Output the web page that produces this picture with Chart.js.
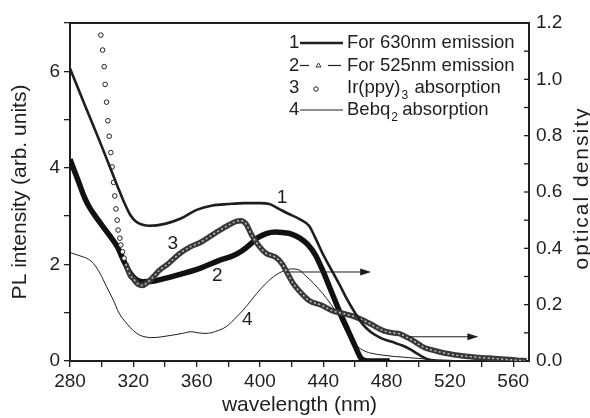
<!DOCTYPE html>
<html>
<head>
<meta charset="utf-8">
<script src="https://cdn.jsdelivr.net/npm/chart.js@4.4.1/dist/chart.umd.min.js"></script>
<style>
  html, body { margin: 0; padding: 0; background: #fff; }
  canvas { display: block; }
</style>
</head>
<body>
<canvas id="plChart" width="590" height="418"></canvas>
<script>
// curve 1 - PL, for 630nm emission (left axis)
const em630Wl  = [280, 290, 300, 310, 314, 318, 322, 326, 330, 340, 350, 360, 370, 380, 390, 400, 406, 412, 418, 425, 431, 435, 440, 445, 450, 455, 460, 465, 470, 475, 480, 485, 490, 495, 500, 505, 510];
const em630Val = [6.06, 5.25, 4.45, 3.62, 3.30, 3.03, 2.88, 2.82, 2.80, 2.84, 2.95, 3.13, 3.22, 3.25, 3.27, 3.27, 3.25, 3.15, 3.05, 2.94, 2.80, 2.55, 2.20, 1.90, 1.60, 1.28, 1.00, 0.76, 0.60, 0.50, 0.43, 0.38, 0.32, 0.24, 0.14, 0.05, 0.0];

// curve 2 - PL, for 525nm emission (left axis)
const em525Wl  = [280, 283, 286, 289, 292, 296, 300, 305, 310, 314, 318, 322, 326, 332, 340, 350, 362, 374, 383, 389, 394, 398, 404, 410, 414, 420, 425, 430, 435, 440, 445, 450, 455, 460, 464, 468, 482];
const em525Val = [4.18, 3.92, 3.66, 3.40, 3.20, 3.00, 2.82, 2.60, 2.36, 2.07, 1.82, 1.68, 1.64, 1.65, 1.71, 1.80, 1.92, 2.08, 2.18, 2.29, 2.42, 2.54, 2.64, 2.67, 2.66, 2.63, 2.55, 2.42, 2.20, 1.85, 1.45, 1.05, 0.68, 0.32, 0.05, 0.0, 0.0];

// curve 3 - Ir(ppy)3 absorption (right axis), single circles at the steep edge
const irSparseWl = [299.5, 300.6, 301.6, 302.2, 303.1, 303.9, 304.8, 305.8, 306.6, 307.5, 308.3, 309.0, 309.8, 310.4, 311.5, 312.1, 313.2, 314.2];
const irSparseOd = [1.157, 1.104, 1.045, 0.982, 0.919, 0.853, 0.798, 0.740, 0.689, 0.634, 0.586, 0.540, 0.500, 0.465, 0.436, 0.412, 0.388, 0.365];
// ...and the dense part, where the circles overlap into a band
const irDenseWl = [315.2, 318, 320, 322, 324, 326, 328.3, 332, 336.7, 342, 349, 356, 362, 372, 380, 385, 388, 391, 395, 399.7, 404, 410, 414, 418, 421, 425, 431, 439, 446, 453, 460, 466, 471, 476, 480, 485, 488, 491, 494, 498, 502.6, 508, 513, 523.6, 532, 540, 548, 555, 562, 568.5];
const irDenseOd = [0.345, 0.305, 0.292, 0.278, 0.270, 0.268, 0.276, 0.295, 0.323, 0.345, 0.380, 0.405, 0.420, 0.455, 0.482, 0.496, 0.498, 0.488, 0.445, 0.406, 0.382, 0.368, 0.345, 0.305, 0.275, 0.248, 0.215, 0.198, 0.178, 0.168, 0.157, 0.143, 0.128, 0.113, 0.104, 0.099, 0.097, 0.090, 0.081, 0.068, 0.051, 0.040, 0.033, 0.021, 0.016, 0.012, 0.009, 0.006, 0.003, 0.001];

// curve 4 - Bebq2 absorption (right axis)
const bebqWl = [280, 287, 291.5, 295, 299, 303, 307.3, 311, 315.7, 320, 324, 328, 332.5, 338, 345, 351, 356.7, 361, 366, 372, 378.7, 385, 391.3, 398, 403.9, 410, 416.5, 420, 424, 429, 434, 439.6, 445, 450, 453, 456.4, 460, 464.8, 470, 477.4, 485, 492, 500, 513, 534];
const bebqOd = [0.385, 0.372, 0.362, 0.345, 0.311, 0.265, 0.217, 0.170, 0.134, 0.108, 0.092, 0.085, 0.083, 0.086, 0.092, 0.098, 0.104, 0.100, 0.098, 0.105, 0.122, 0.155, 0.193, 0.240, 0.276, 0.305, 0.323, 0.327, 0.325, 0.302, 0.275, 0.240, 0.200, 0.157, 0.120, 0.086, 0.060, 0.039, 0.028, 0.021, 0.016, 0.013, 0.009, 0.004, 0.0];

// axis ranges
const wlRange = [280, 570];
const plRange = [0, 7];
const odRange = [0, 1.2];

const FONT = '"Liberation Sans", Arial, Helvetica, sans-serif';
const INK = '#1e1e1e';

function toPoints(xs, ys) {
    return xs.map((x, i) => ({ x: x, y: ys[i] }));
}

// curve numbers and arrows, in data units
const curveTags = [
    { text: '1', x: 414, y: 3.38 },
    { text: '2', x: 373, y: 1.77 },
    { text: '3', x: 345, y: 2.43 },
    { text: '4', x: 392, y: 0.85 }
];
const odArrows = [
    { from: 418.6, to: 470.3, od: 0.316 },
    { from: 494, to: 538, od: 0.086 }
];

function arrow(ctx, x1, x2, py) {
    ctx.beginPath();
    ctx.moveTo(x1, py);
    ctx.lineTo(x2 - 8, py);
    ctx.stroke();
    ctx.beginPath();
    ctx.moveTo(x2, py);
    ctx.lineTo(x2 - 11, py - 3.5);
    ctx.lineTo(x2 - 11, py + 3.5);
    ctx.closePath();
    ctx.fill();
}

const extrasPlugin = {
    id: 'extras',
    afterDraw(chart) {
        const { ctx, chartArea: a, scales } = chart;
        const x = scales.x, y = scales.y, y2 = scales.y2;
        ctx.save();
        ctx.strokeStyle = INK;
        ctx.fillStyle = INK;

        // top frame line
        ctx.lineWidth = 2;
        ctx.beginPath();
        ctx.moveTo(a.left - 1, a.top);
        ctx.lineTo(a.right + 1, a.top);
        ctx.stroke();

        // right axis ticks point inwards
        ctx.lineWidth = 1.3;
        y2.ticks.forEach(t => {
            const py = y2.getPixelForValue(t.value);
            ctx.beginPath();
            ctx.moveTo(a.right - 5, py);
            ctx.lineTo(a.right, py);
            ctx.stroke();
        });

        // right axis title, read bottom to top like the left one
        ctx.save();
        ctx.translate(chart.width - 8, (a.top + a.bottom) / 2 - 4);
        ctx.rotate(-Math.PI / 2);
        ctx.font = '21px ' + FONT;
        ctx.textAlign = 'center';
        ctx.textBaseline = 'middle';
        ctx.letterSpacing = '2px';
        ctx.fillText('optical density', 0, 0);
        ctx.restore();

        // numbers next to the curves
        ctx.font = '19px ' + FONT;
        ctx.textAlign = 'center';
        ctx.textBaseline = 'middle';
        curveTags.forEach(t => {
            ctx.fillText(t.text, x.getPixelForValue(t.x), y.getPixelForValue(t.y));
        });

        // arrows pointing to the optical density axis
        ctx.lineWidth = 1;
        odArrows.forEach(ar => {
            arrow(ctx, x.getPixelForValue(ar.from), x.getPixelForValue(ar.to), y2.getPixelForValue(ar.od));
        });

        // legend (top right, inside the frame)
        const lx = a.left + 219;
        const sx0 = lx + 11, sx1 = lx + 54, tx = lx + 58;
        const rows = [a.top + 20, a.top + 42.5, a.top + 65, a.top + 87];
        const big = '18.5px ' + FONT, small = '12px ' + FONT;
        ctx.font = big;
        ctx.textAlign = 'left';
        ctx.textBaseline = 'middle';

        // 1
        ctx.fillText('1', lx, rows[0]);
        ctx.lineWidth = 2.6;
        ctx.beginPath(); ctx.moveTo(sx0, rows[0]); ctx.lineTo(sx1, rows[0]); ctx.stroke();
        ctx.fillText('For 630nm emission', tx, rows[0]);

        // 2
        ctx.fillText('2', lx, rows[1]);
        ctx.lineWidth = 1.2;
        ctx.beginPath(); ctx.moveTo(sx0, rows[1]); ctx.lineTo(sx0 + 9, rows[1]); ctx.stroke();
        ctx.beginPath(); ctx.moveTo(sx0 + 28, rows[1]); ctx.lineTo(sx1 - 2, rows[1]); ctx.stroke();
        ctx.lineWidth = 0.9;
        ctx.beginPath();
        ctx.moveTo(sx0 + 18.5, rows[1] - 2.5);
        ctx.lineTo(sx0 + 16, rows[1] + 1.5);
        ctx.lineTo(sx0 + 21, rows[1] + 1.5);
        ctx.closePath();
        ctx.stroke();
        ctx.fillText('For 525nm emission', tx, rows[1]);

        // 3
        ctx.fillText('3', lx, rows[2]);
        ctx.lineWidth = 1;
        ctx.beginPath(); ctx.arc(sx0 + 16, rows[2] + 1, 2.2, 0, Math.PI * 2); ctx.stroke();
        ctx.fillText('Ir(ppy)', tx, rows[2]);
        let w = ctx.measureText('Ir(ppy)').width;
        ctx.font = small;
        ctx.fillText('3', tx + w + 1, rows[2] + 8);
        ctx.font = big;
        ctx.fillText('absorption', tx + w + 14, rows[2]);

        // 4
        ctx.fillText('4', lx, rows[3]);
        ctx.lineWidth = 1;
        ctx.beginPath(); ctx.moveTo(sx0, rows[3]); ctx.lineTo(sx1, rows[3]); ctx.stroke();
        ctx.fillText('Bebq', tx, rows[3]);
        w = ctx.measureText('Bebq').width;
        ctx.font = small;
        ctx.fillText('2', tx + w + 1, rows[3] + 8);
        ctx.font = big;
        ctx.fillText('absorption', tx + w + 12, rows[3]);

        ctx.restore();
    }
};

const ctx = document.getElementById('plChart').getContext('2d');

const tickFont = { family: FONT, size: 19 };
const titleFont = { family: FONT, size: 21 };

new Chart(ctx, {
    type: 'line',
    data: {
        datasets: [
            { // 1
                data: toPoints(em630Wl, em630Val), yAxisID: 'y', order: 1,
                borderColor: INK, borderWidth: 2.6, pointRadius: 0,
                cubicInterpolationMode: 'monotone', fill: false
            },
            { // 3 - single circles
                data: toPoints(irSparseWl, irSparseOd), yAxisID: 'y2', order: 2,
                showLine: false, pointRadius: 2.3, pointBorderWidth: 1,
                pointBorderColor: INK, pointBackgroundColor: '#fff'
            },
            { // 3 - texture on top of the band
                data: toPoints(irDenseWl, irDenseOd), yAxisID: 'y2', order: 3,
                borderColor: '#bdbdbd', borderWidth: 1.5, borderDash: [2, 2.5], pointRadius: 0,
                cubicInterpolationMode: 'monotone', fill: false
            },
            { // 3 - dense band of circles
                data: toPoints(irDenseWl, irDenseOd), yAxisID: 'y2', order: 4,
                borderColor: '#383838', borderWidth: 5.5, pointRadius: 0,
                cubicInterpolationMode: 'monotone', fill: false
            },
            { // 2
                data: toPoints(em525Wl, em525Val), yAxisID: 'y', order: 5,
                borderColor: '#111', borderWidth: 5.5, pointRadius: 0,
                cubicInterpolationMode: 'monotone', fill: false
            },
            { // 4
                data: toPoints(bebqWl, bebqOd), yAxisID: 'y2', order: 6,
                borderColor: INK, borderWidth: 1, pointRadius: 0,
                cubicInterpolationMode: 'monotone', fill: false
            }
        ]
    },
    options: {
        responsive: false,
        animation: false,
        events: [],
        layout: { padding: { top: 23, left: 0, right: 0, bottom: 0 } },
        plugins: {
            legend: { display: false },
            tooltip: { enabled: false }
        },
        scales: {
            x: {
                type: 'linear',
                min: wlRange[0], max: wlRange[1],
                ticks: {
                    stepSize: 20, includeBounds: false, autoSkip: false, maxRotation: 0,
                    font: tickFont, color: INK, padding: 3,
                    callback: v => (v % 40 === 0 ? String(v) : '')
                },
                grid: { drawOnChartArea: false, tickLength: 6, color: INK, lineWidth: 1.3 },
                border: { color: INK, width: 2 },
                title: { display: true, text: 'wavelength (nm)', font: titleFont, color: INK, padding: { top: 0, bottom: 0 } },
                afterFit: s => { s.height = 57; }
            },
            y: {
                position: 'left',
                min: plRange[0], max: plRange[1],
                ticks: {
                    stepSize: 1, font: tickFont, color: INK, padding: 4,
                    callback: v => (v % 2 === 0 ? String(v) : '')
                },
                grid: { drawOnChartArea: false, tickLength: 6, color: INK, lineWidth: 1.3 },
                border: { color: INK, width: 2 },
                title: { display: true, text: 'PL intensity (arb. units)', font: titleFont, color: INK, padding: { top: 8, bottom: 0 } },
                afterFit: s => { s.width = 70; }
            },
            y2: {
                position: 'right',
                min: odRange[0], max: odRange[1],
                ticks: {
                    stepSize: 0.1, font: tickFont, color: INK, padding: 7,
                    callback: v => (Math.round(v * 10) % 2 === 0 ? v.toFixed(1) : '')
                },
                grid: { drawOnChartArea: false, drawTicks: false },
                border: { color: INK, width: 2 },
                afterFit: s => { s.width = 61; }
            }
        }
    },
    plugins: [extrasPlugin]
});
</script>
</body>
</html>
